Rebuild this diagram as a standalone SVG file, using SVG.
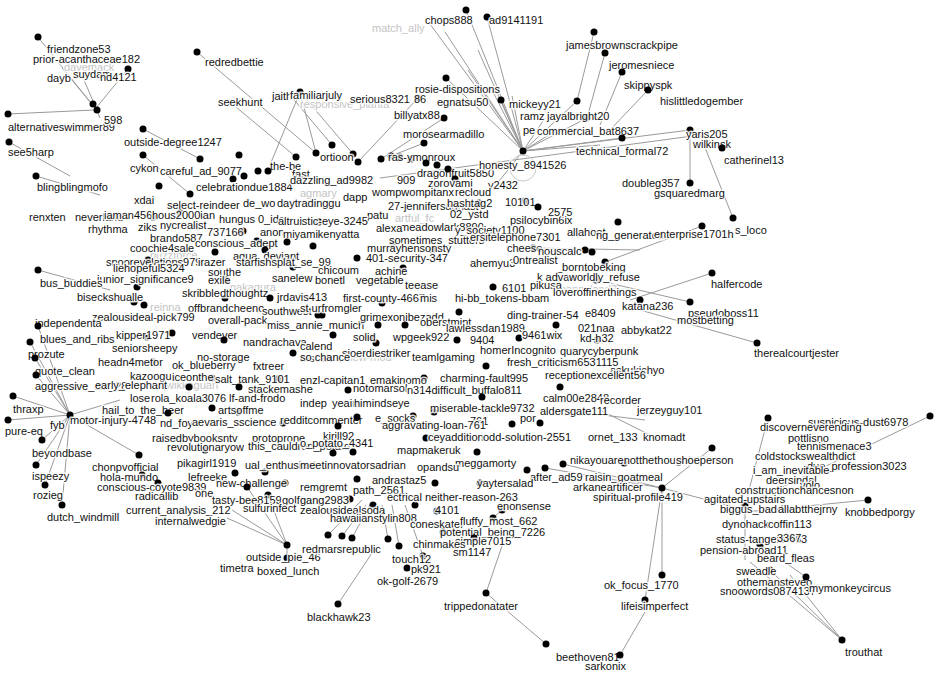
<svg xmlns="http://www.w3.org/2000/svg" width="950" height="678" viewBox="0 0 950 678">
<style>
text{font-family:"Liberation Sans",Arial,sans-serif;font-size:11px;fill:#111;stroke:#fff;stroke-width:3px;stroke-opacity:0.85;paint-order:stroke;stroke-linejoin:round}
.f text{fill:#c4c4c4}
circle{fill:#000}
circle.ring{fill:none;stroke:#c8c8c8;stroke-width:1}
#edges line{stroke:#9a9a9a;stroke-width:1}
</style>
<rect width="950" height="678" fill="#fff"/>
<g id="edges">
<line x1="38" y1="37" x2="95" y2="108"/><line x1="62" y1="68" x2="95" y2="108"/><line x1="84" y1="80" x2="96" y2="108"/><line x1="128" y1="69" x2="96" y2="108"/><line x1="8" y1="114" x2="94" y2="110"/><line x1="96" y1="108" x2="100" y2="118"/>
<line x1="197" y1="52" x2="316" y2="153"/><line x1="230" y1="102" x2="296" y2="157"/><line x1="300" y1="92" x2="316" y2="153"/><line x1="300" y1="92" x2="353" y2="154"/><line x1="300" y1="92" x2="270" y2="165"/><line x1="290" y1="95" x2="332" y2="145"/><line x1="418" y1="98" x2="358" y2="162"/><line x1="444" y1="118" x2="381" y2="159"/><line x1="424" y1="143" x2="391" y2="156"/><line x1="143" y1="129" x2="200" y2="159"/><line x1="143" y1="155" x2="190" y2="194"/>
<line x1="523" y1="151" x2="430" y2="24"/><line x1="523" y1="151" x2="445" y2="32"/><line x1="523" y1="151" x2="466" y2="10"/><line x1="523" y1="151" x2="487" y2="17"/><line x1="523" y1="151" x2="478" y2="50"/><line x1="523" y1="151" x2="468" y2="70"/><line x1="523" y1="151" x2="446" y2="78"/><line x1="523" y1="151" x2="490" y2="86"/><line x1="523" y1="151" x2="501" y2="100"/><line x1="523" y1="151" x2="512" y2="96"/><line x1="523" y1="151" x2="577" y2="101"/><line x1="523" y1="151" x2="587" y2="118"/><line x1="523" y1="151" x2="622" y2="138"/><line x1="523" y1="151" x2="690" y2="130"/><line x1="523" y1="151" x2="560" y2="128"/><line x1="523" y1="151" x2="545" y2="118"/><line x1="523" y1="151" x2="600" y2="145"/><line x1="523" y1="151" x2="488" y2="195"/>
<line x1="594" y1="32" x2="577" y2="101"/><line x1="605" y1="53" x2="587" y2="118"/><line x1="622" y1="72" x2="600" y2="125"/><line x1="648" y1="90" x2="610" y2="130"/>
<line x1="380" y1="178" x2="700" y2="135"/><line x1="690" y1="130" x2="722" y2="148"/><line x1="690" y1="130" x2="690" y2="183"/><line x1="700" y1="135" x2="733" y2="218"/>
<line x1="605" y1="262" x2="702" y2="226"/><line x1="596" y1="280" x2="690" y2="302"/><line x1="630" y1="300" x2="712" y2="273"/><line x1="640" y1="310" x2="757" y2="343"/><line x1="533" y1="248" x2="640" y2="250"/>
<line x1="36" y1="176" x2="100" y2="195"/><line x1="9" y1="142" x2="70" y2="176"/><line x1="38" y1="270" x2="110" y2="290"/>
<line x1="70" y1="415" x2="30" y2="342"/><line x1="70" y1="415" x2="38" y2="326"/><line x1="70" y1="415" x2="35" y2="358"/><line x1="70" y1="415" x2="36" y2="375"/><line x1="70" y1="415" x2="13" y2="396"/><line x1="70" y1="415" x2="8" y2="420"/><line x1="70" y1="415" x2="42" y2="440"/><line x1="70" y1="415" x2="36" y2="465"/><line x1="70" y1="415" x2="45" y2="485"/><line x1="70" y1="415" x2="62" y2="505"/><line x1="70" y1="415" x2="139" y2="455"/><line x1="70" y1="415" x2="120" y2="400"/>
<line x1="287" y1="545" x2="227" y2="518"/><line x1="287" y1="545" x2="232" y2="510"/><line x1="287" y1="545" x2="268" y2="495"/><line x1="287" y1="545" x2="247" y2="487"/><line x1="287" y1="545" x2="287" y2="558"/>
<line x1="338" y1="604" x2="372" y2="553"/><line x1="328" y1="535" x2="362" y2="500"/><line x1="342" y1="536" x2="366" y2="505"/><line x1="352" y1="538" x2="370" y2="505"/><line x1="388" y1="539" x2="382" y2="505"/><line x1="399" y1="546" x2="392" y2="505"/><line x1="423" y1="556" x2="405" y2="505"/>
<line x1="486" y1="593" x2="503" y2="543"/><line x1="486" y1="593" x2="546" y2="644"/><line x1="493" y1="518" x2="502" y2="510"/>
<line x1="662" y1="488" x2="712" y2="448"/><line x1="662" y1="488" x2="662" y2="575"/><line x1="662" y1="488" x2="645" y2="600"/><line x1="645" y1="612" x2="620" y2="655"/><line x1="662" y1="488" x2="563" y2="464"/><line x1="662" y1="488" x2="545" y2="468"/><line x1="662" y1="488" x2="745" y2="510"/><line x1="600" y1="410" x2="660" y2="440"/><line x1="560" y1="410" x2="645" y2="420"/>
<line x1="930" y1="416" x2="745" y2="505"/><line x1="868" y1="500" x2="745" y2="512"/><line x1="806" y1="577" x2="760" y2="545"/><line x1="842" y1="640" x2="770" y2="570"/><line x1="842" y1="640" x2="790" y2="575"/><line x1="842" y1="640" x2="750" y2="562"/><line x1="768" y1="418" x2="745" y2="505"/><line x1="745" y1="505" x2="745" y2="560"/>
</g>
<circle class="ring" cx="523" cy="168" r="13"/>
<g class="f">
<g id="f1"><text x="372" y="32">match_ally</text></g>
<g id="f2"><text x="64" y="71">davemack</text></g>
<g id="f3"><text x="300" y="108">responsive_planta</text></g>
<g id="f4"><text x="150" y="259">buzzforce</text></g>
<g id="f5"><text x="230" y="291">nakagura</text></g>
<g id="f6"><text x="150" y="311">reinna</text></g>
<g id="f7"><text x="160" y="389">qwikkaguarl</text></g>
<g id="f8"><text x="330" y="361">myview-mod</text></g>
<g id="f9"><text x="560" y="293">happyland2</text></g>
<g id="f10"><text x="395" y="222">artful_fc</text></g>
<g id="f11"><text x="300" y="197">agmary</text></g>
</g>
<g id="n-friendzone53"><circle cx="38" cy="37" r="3.5"/><text x="47" y="53">friendzone53</text></g>
<g id="n-prior"><text x="33" y="63">prior-acanthaceae182</text></g>
<g id="n-dayb"><circle cx="93" cy="104" r="3.5"/><text x="47" y="82">dayb</text></g>
<g id="n-suydam"><circle cx="97" cy="110" r="3.5"/><text x="73" y="78">suydam</text></g>
<g id="n-d4121"><circle cx="128" cy="69" r="3.5"/><text x="100" y="81">nd4121</text></g>
<g id="n-alt"><circle cx="8" cy="114" r="3.5"/><text x="8" y="131">alternativeswimmer89</text></g>
<g id="n-598"><text x="104" y="124">598</text></g>
<g id="n-see5harp"><circle cx="9" cy="142" r="3.5"/><text x="8" y="156">see5harp</text></g>
<g id="n-outside-degree"><circle cx="143" cy="129" r="3.5"/><text x="124" y="146">outside-degree1247</text></g>
<g id="n-cykon"><circle cx="143" cy="155" r="3.5"/><text x="130" y="172">cykon</text></g>
<g id="n-careful"><circle cx="200" cy="159" r="3.5"/><text x="160" y="175">careful_ad_9077</text></g>
<g id="n-blingbling"><circle cx="36" cy="176" r="3.5"/><text x="37" y="191">blingblingmofo</text></g>
<g id="n-the-be"><circle cx="239" cy="155" r="3.5"/><text x="270" y="170">the-be</text></g>
<g id="n-celebration"><circle cx="233" cy="179" r="3.5"/><circle cx="244" cy="176" r="3.5"/><text x="196" y="191">celebrationdue1884</text></g>
<g id="n-xdai"><circle cx="159" cy="186" r="3.5"/><text x="134" y="204">xdai</text></g>
<g id="n-select"><circle cx="190" cy="194" r="3.5"/><text x="167" y="209">select-reindeer</text></g>
<g id="n-dewo"><circle cx="258" cy="171" r="3.5"/><text x="243" y="207">de_wo</text></g>
<g id="n-daytrading"><circle cx="268" cy="171" r="3.5"/><text x="277" y="207">daytradinggu</text></g>
<g id="n-renxten"><text x="29" y="221">renxten</text></g>
<g id="n-neverland"><text x="75" y="221">neverland</text></g>
<g id="n-iaman456"><circle cx="153" cy="217" r="3.5"/><text x="104" y="219">iaman456</text></g>
<g id="n-hous2000ian"><circle cx="180" cy="213" r="3.5"/><text x="152" y="219">hous2000ian</text></g>
<g id="n-hungus"><text x="219" y="223">hungus</text></g>
<g id="n-0idc"><text x="258" y="223">0_idc</text></g>
<g id="n-ziks"><text x="138" y="231">ziks</text></g>
<g id="n-nycrealist"><text x="160" y="229">nycrealist</text></g>
<g id="n-rhythma"><text x="88" y="233">rhythma</text></g>
<g id="n-737166"><circle cx="243" cy="231" r="3.5"/><text x="207" y="236">737166</text></g>
<g id="n-anon"><text x="260" y="236">anon</text></g>
<g id="n-miya"><circle cx="313" cy="246" r="3.5"/><text x="283" y="238">miyamikenyatta</text></g>
<g id="n-brando"><text x="150" y="242">brando587</text></g>
<g id="n-conscious"><circle cx="257" cy="241" r="3.5"/><circle cx="287" cy="242" r="3.5"/><text x="195" y="247">conscious_adept</text></g>
<g id="n-coochie"><circle cx="215" cy="252" r="3.5"/><text x="130" y="252">coochie4sale</text></g>
<g id="n-aqua"><circle cx="265" cy="250" r="3.5"/><text x="233" y="260">aqua_deviant</text></g>
<g id="n-snoorev"><circle cx="148" cy="260" r="3.5"/><text x="106" y="266">snoorevelations979</text></g>
<g id="n-irazer"><text x="198" y="266">irazer</text></g>
<g id="n-starfish"><circle cx="293" cy="267" r="3.5"/><text x="236" y="266">starfishsplat_se_99</text></g>
<g id="n-liehopeful"><text x="113" y="272">liehopeful5324</text></g>
<g id="n-southe"><text x="208" y="276">southe</text></g>
<g id="n-junior"><circle cx="137" cy="287" r="3.5"/><text x="97" y="283">junior_significance9</text></g>
<g id="n-exile"><circle cx="226" cy="280" r="3.5"/><text x="208" y="284">exile</text></g>
<g id="n-sanele"><text x="272" y="282">sanelew</text></g>
<g id="n-bus"><circle cx="38" cy="270" r="3.5"/><text x="40" y="287">bus_buddies</text></g>
<g id="n-skribbled"><circle cx="225" cy="298" r="3.5"/><text x="182" y="297">skribbledthoughtz</text></g>
<g id="n-bisecks"><circle cx="144" cy="305" r="3.5"/><circle cx="134" cy="302" r="3.5"/><text x="77" y="301">biseckshualle</text></g>
<g id="n-jrdavis"><circle cx="270" cy="298" r="3.5"/><text x="277" y="301">jrdavis413</text></g>
<g id="n-offbrand"><text x="188" y="312">offbrandcheeno</text></g>
<g id="n-southwest"><text x="262" y="315">southwest</text></g>
<g id="n-zealouspick"><text x="92" y="321">zealousideal-pick799</text></g>
<g id="n-overall"><text x="208" y="324">overall-pack</text></g>
<g id="n-independent"><text x="35" y="327">independenta</text></g>
<g id="n-miss-annie"><text x="267" y="329">miss_annie_munich</text></g>
<g id="n-kipper"><circle cx="172" cy="333" r="3.5"/><circle cx="147" cy="337" r="3.5"/><text x="116" y="339">kipper1971</text></g>
<g id="n-vendever"><text x="192" y="339">vendever</text></g>
<g id="n-blues"><circle cx="38" cy="326" r="3.5"/><text x="40" y="343">blues_and_ribs</text></g>
<g id="n-nandrachava"><circle cx="224" cy="340" r="3.5"/><text x="243" y="346">nandrachava</text></g>
<g id="n-senior"><text x="112" y="352">seniorsheepy</text></g>
<g id="n-prozute"><circle cx="30" cy="342" r="3.5"/><text x="28" y="358">prozute</text></g>
<g id="n-nostorage"><circle cx="293" cy="353" r="3.5"/><text x="197" y="361">no-storage</text></g>
<g id="n-mscale"><text x="300" y="362">mscale</text></g>
<g id="n-headn"><circle cx="153" cy="362" r="3.5"/><text x="98" y="366">headn4metor</text></g>
<g id="n-okblue"><text x="172" y="369">ok_blueberry</text></g>
<g id="n-fxtreer"><text x="253" y="370">fxtreer</text></g>
<g id="n-quote"><circle cx="35" cy="358" r="3.5"/><text x="35" y="375">quote_clean</text></g>
<g id="n-kazoogu"><text x="130" y="380">kazoogu</text></g>
<g id="n-iceonthe"><circle cx="212" cy="378" r="3.5"/><text x="172" y="381">iceonthe</text></g>
<g id="n-salttank"><circle cx="278" cy="379" r="3.5"/><text x="215" y="383">salt_tank_9101</text></g>
<g id="n-aggressive"><circle cx="36" cy="375" r="3.5"/><text x="35" y="390">aggressive_cut_28</text></g>
<g id="n-early"><circle cx="189" cy="387" r="3.5"/><text x="95" y="389">early_elephant</text></g>
<g id="n-stackem"><circle cx="239" cy="387" r="3.5"/><text x="248" y="393">stackemashe</text></g>
<g id="n-lose"><text x="130" y="402">lose</text></g>
<g id="n-rola"><text x="151" y="402">rola_koala3076</text></g>
<g id="n-frodo"><text x="229" y="402">lf-and-frodo</text></g>
<g id="n-thraxp"><circle cx="13" cy="396" r="3.5"/><text x="13" y="413">thraxp</text></g>
<g id="n-hail"><circle cx="212" cy="408" r="3.5"/><text x="102" y="414">hail_to_the_beer</text></g>
<g id="n-arts"><circle cx="238" cy="412" r="3.5"/><text x="218" y="414">artsoffme</text></g>
<g id="n-motor"><circle cx="70" cy="415" r="3.5"/><circle cx="168" cy="413" r="3.5"/><text x="70" y="424">motor-injury-4748</text></g>
<g id="n-foy"><text x="160" y="427">nd_foy</text></g>
<g id="n-aevaris"><text x="192" y="426">aevaris_sscience</text></g>
<g id="n-reddit"><circle cx="283" cy="423" r="3.5"/><text x="280" y="424">redditcommenter</text></g>
<g id="n-fyb"><text x="50" y="429">fyb</text></g>
<g id="n-pure"><circle cx="8" cy="420" r="3.5"/><text x="5" y="435">pure-eq</text></g>
<g id="n-raised"><text x="152" y="442">raisedbybooksntv</text></g>
<g id="n-protoprone"><text x="252" y="442">protoprone</text></g>
<g id="n-revolution"><circle cx="205" cy="450" r="3.5"/><text x="167" y="451">revolutionaryow</text></g>
<g id="n-thiscau"><text x="248" y="450">this_cauldron_potato</text></g>
<g id="n-beyond"><circle cx="42" cy="440" r="3.5"/><text x="32" y="457">beyondbase</text></g>
<g id="n-chonp"><circle cx="139" cy="455" r="3.5"/><text x="92" y="471">chonpvofficial</text></g>
<g id="n-pikagirl"><text x="177" y="467">pikagirl1919</text></g>
<g id="n-ualenth"><circle cx="265" cy="472" r="3.5"/><circle cx="235" cy="473" r="3.5"/><text x="245" y="469">ual_enthusiast</text></g>
<g id="n-ispeezy"><circle cx="36" cy="465" r="3.5"/><text x="32" y="480">ispeezy</text></g>
<g id="n-hola"><circle cx="142" cy="475" r="3.5"/><text x="100" y="481">hola-mundo</text></g>
<g id="n-lefreeke"><text x="188" y="481">lefreeke</text></g>
<g id="n-newchal"><circle cx="285" cy="483" r="3.5"/><text x="216" y="487">new-challenge</text></g>
<g id="n-coyote"><circle cx="158" cy="483" r="3.5"/><text x="97" y="491">conscious-coyote9839</text></g>
<g id="n-rozieg"><circle cx="45" cy="485" r="3.5"/><text x="33" y="499">rozieg</text></g>
<g id="n-radicallib"><text x="135" y="500">radicallib</text></g>
<g id="n-one"><text x="195" y="497">one</text></g>
<g id="n-tasty"><circle cx="247" cy="487" r="3.5"/><circle cx="268" cy="495" r="3.5"/><text x="212" y="504">tasty-bee8159</text></g>
<g id="n-golfgang"><text x="282" y="504">golfgang</text></g>
<g id="n-sulfur"><text x="243" y="512">sulfurinfect</text></g>
<g id="n-current"><text x="126" y="514">current_analysis_212</text></g>
<g id="n-dutch"><circle cx="62" cy="505" r="3.5"/><text x="47" y="521">dutch_windmill</text></g>
<g id="n-internal"><text x="155" y="525">internalwedgie</text></g>
<g id="n-outsidepie"><circle cx="287" cy="545" r="3.5"/><circle cx="287" cy="558" r="3.5"/><text x="246" y="561">outside_pie_46</text></g>
<g id="n-timetra"><text x="220" y="572">timetra</text></g>
<g id="n-boxed"><text x="257" y="575">boxed_lunch</text></g>
<g id="n-seekhunt"><circle cx="296" cy="157" r="3.5"/><text x="218" y="106">seekhunt</text></g>
<g id="n-jaith"><text x="272" y="100">jaith</text></g>
<g id="n-familiar"><circle cx="300" cy="92" r="3.5"/><text x="290" y="99">familiarjuly</text></g>
<g id="n-serious"><circle cx="418" cy="98" r="3.5"/><text x="350" y="103">serious8321</text></g>
<g id="n-86"><text x="414" y="103">86</text></g>
<g id="n-redred"><circle cx="197" cy="52" r="3.5"/><text x="205" y="66">redredbettie</text></g>
<g id="n-billyatx"><circle cx="444" cy="118" r="3.5"/><text x="394" y="119">billyatx88</text></g>
<g id="n-morose"><circle cx="424" cy="143" r="3.5"/><text x="403" y="138">morosearmadillo</text></g>
<g id="n-ortioon"><circle cx="316" cy="153" r="3.5"/><circle cx="332" cy="145" r="3.5"/><circle cx="353" cy="154" r="3.5"/><circle cx="358" cy="162" r="3.5"/><text x="320" y="161">ortioon</text></g>
<g id="n-monroux"><circle cx="381" cy="159" r="3.5"/><circle cx="391" cy="156" r="3.5"/><circle cx="400" cy="157" r="3.5"/><circle cx="411" cy="159" r="3.5"/><text x="388" y="161">ras-ymonroux</text></g>
<g id="n-fast"><text x="292" y="178">fast</text></g>
<g id="n-dazzling"><text x="290" y="184">dazzling_ad9982</text></g>
<g id="n-909"><text x="397" y="184">909</text></g>
<g id="n-dragon"><circle cx="426" cy="163" r="3.5"/><circle cx="437" cy="165" r="3.5"/><text x="417" y="177">dragonfruit5850</text></g>
<g id="n-zorovami"><circle cx="448" cy="169" r="3.5"/><circle cx="455" cy="179" r="3.5"/><text x="428" y="187">zorovami</text></g>
<g id="n-womp"><text x="372" y="196">wompwompitanx</text></g>
<g id="n-dapp"><text x="343" y="201">dapp</text></g>
<g id="n-jennifer"><text x="388" y="210">27-jennifersaghast</text></g>
<g id="n-patu"><text x="367" y="219">patu</text></g>
<g id="n-meadow"><text x="400" y="231">meadowlark8890</text></g>
<g id="n-alexa"><text x="376" y="232">alexa</text></g>
<g id="n-altruistic"><circle cx="319" cy="222" r="3.5"/><text x="278" y="225">altruistic-eye-3245</text></g>
<g id="n-y2432"><text x="488" y="189">y2432</text></g>
<g id="n-recloud"><text x="455" y="196">recloud</text></g>
<g id="n-hashtag"><circle cx="479" cy="203" r="3.5"/><text x="447" y="207">hashtag2</text></g>
<g id="n-10101"><circle cx="525" cy="201" r="3.5"/><text x="505" y="206">10101</text></g>
<g id="n-ystd"><text x="450" y="218">02_ystd</text></g>
<g id="n-psilo"><circle cx="538" cy="207" r="3.5"/><text x="510" y="224">psilocybin6ix</text></g>
<g id="n-2575"><text x="548" y="216">2575</text></g>
<g id="n-society"><circle cx="618" cy="222" r="3.5"/><text x="455" y="234">y_society1100</text></g>
<g id="n-sometimes"><circle cx="393" cy="245" r="3.5"/><text x="389" y="244">sometimes_stutters</text></g>
<g id="n-murray"><circle cx="432" cy="250" r="3.5"/><text x="367" y="252">murrayhensonsty</text></g>
<g id="n-security"><circle cx="357" cy="258" r="3.5"/><text x="366" y="262">401-security-347</text></g>
<g id="n-chicoum"><text x="318" y="274">chicoum</text></g>
<g id="n-achine"><circle cx="403" cy="268" r="3.5"/><text x="375" y="275">achine</text></g>
<g id="n-bonetl"><text x="315" y="284">bonetl</text></g>
<g id="n-vegetable"><text x="356" y="284">vegetable</text></g>
<g id="n-teease"><text x="405" y="289">teease</text></g>
<g id="n-first"><circle cx="382" cy="303" r="3.5"/><text x="343" y="302">first-county-4667</text></g>
<g id="n-mis"><text x="420" y="302">mis</text></g>
<g id="n-hibb"><text x="455" y="302">hi-bb_tokens-bbam</text></g>
<g id="n-urfrom"><circle cx="318" cy="315" r="3.5"/><circle cx="322" cy="315" r="3.5"/><text x="300" y="312">st urfromgler</text></g>
<g id="n-grimex"><circle cx="459" cy="312" r="3.5"/><text x="360" y="321">grimexonibezadd</text></g>
<g id="n-oberst"><circle cx="405" cy="325" r="3.5"/><circle cx="378" cy="325" r="3.5"/><text x="420" y="326">oberstmint</text></g>
<g id="n-solid"><circle cx="333" cy="335" r="3.5"/><circle cx="370" cy="338" r="3.5"/><circle cx="376" cy="343" r="3.5"/><text x="353" y="341">solid</text></g>
<g id="n-wpgeek"><text x="393" y="341">wpgeek922</text></g>
<g id="n-lawless"><circle cx="457" cy="340" r="3.5"/><text x="446" y="332">lawlessdan1989</text></g>
<g id="n-calend"><text x="300" y="350">calend</text></g>
<g id="n-sjoerd"><text x="342" y="357">sjoerdiestriker</text></g>
<g id="n-chance"><text x="300" y="361">so chance</text></g>
<g id="n-teamlgaming"><text x="412" y="361">teamlgaming</text></g>
<g id="n-telephone"><text x="470" y="241">ersitelephone7301</text></g>
<g id="n-allahoot"><text x="567" y="236">allahoot</text></g>
<g id="n-ngen"><text x="596" y="239">ng_generated</text></g>
<g id="n-cheese"><circle cx="533" cy="248" r="3.5"/><text x="507" y="252">cheese</text></g>
<g id="n-nouscalc"><circle cx="585" cy="250" r="3.5"/><circle cx="592" cy="252" r="3.5"/><text x="538" y="255">nouscalc</text></g>
<g id="n-ahemyu"><text x="470" y="267">ahemyu3</text></g>
<g id="n-ontrealist"><text x="513" y="264">0ntrealist</text></g>
<g id="n-borntobe"><circle cx="605" cy="262" r="3.5"/><text x="556" y="271">_borntobeking</text></g>
<g id="n-advan"><text x="537" y="281">k advan</text></g>
<g id="n-worldly"><circle cx="596" cy="280" r="3.5"/><text x="569" y="281">worldly_refuse</text></g>
<g id="n-6101"><circle cx="493" cy="287" r="3.5"/><text x="502" y="292">6101</text></g>
<g id="n-pikusa"><text x="530" y="289">pikusa</text></g>
<g id="n-lover"><text x="553" y="296">loveroffinerthings</text></g>
<g id="n-katana"><circle cx="640" cy="300" r="3.5"/><text x="622" y="310">katana236</text></g>
<g id="n-ding"><text x="507" y="319">ding-trainer-54</text></g>
<g id="n-e8409"><text x="585" y="317">e8409</text></g>
<g id="n-naa"><circle cx="556" cy="325" r="3.5"/><text x="578" y="332">021naa</text></g>
<g id="n-abby"><text x="621" y="334">abbykat22</text></g>
<g id="n-9461"><circle cx="519" cy="338" r="3.5"/><text x="522" y="339">9461wix</text></g>
<g id="n-kdh"><circle cx="597" cy="340" r="3.5"/><text x="580" y="342">kd-h32</text></g>
<g id="n-9404"><text x="470" y="344">9404</text></g>
<g id="n-homer"><text x="480" y="354">homerIncognito</text></g>
<g id="n-quary"><text x="560" y="355">quarycyberpunk</text></g>
<g id="n-enterprise"><circle cx="702" cy="226" r="3.5"/><text x="654" y="238">enterprise1701h</text></g>
<g id="n-halfer"><circle cx="712" cy="273" r="3.5"/><text x="711" y="288">halfercode</text></g>
<g id="n-pseudo"><circle cx="690" cy="302" r="3.5"/><text x="688" y="317">pseudoboss11</text></g>
<g id="n-mostwhat"><text x="677" y="324">mostbetting</text></g>
<g id="n-courtjester"><circle cx="757" cy="343" r="3.5"/><text x="754" y="357">therealcourtjester</text></g>
<g id="n-askuki"><text x="610" y="374">askukichyo</text></g>
<g id="n-fresh"><circle cx="486" cy="366" r="3.5"/><text x="507" y="366">fresh_criticism6531115</text></g>
<g id="n-reception"><text x="545" y="379">receptionexcellent56</text></g>
<g id="n-charming"><circle cx="424" cy="378" r="3.5"/><text x="440" y="382">charming-fault995</text></g>
<g id="n-capitan"><text x="300" y="384">enzl-capitan1</text></g>
<g id="n-emakino"><text x="370" y="384">emakinomo</text></g>
<g id="n-notomarsol"><circle cx="348" cy="390" r="3.5"/><text x="353" y="392">notomarsol</text></g>
<g id="n-difficult"><circle cx="560" cy="387" r="3.5"/><text x="407" y="394">n314difficult_buffalo811</text></g>
<g id="n-calm"><circle cx="482" cy="397" r="3.5"/><text x="543" y="402">calm00e2848</text></g>
<g id="n-recorder"><text x="600" y="404">recorder</text></g>
<g id="n-indep"><text x="300" y="407">indep</text></g>
<g id="n-yeaim"><text x="332" y="407">yeaim</text></g>
<g id="n-himind"><text x="354" y="407">himindseye</text></g>
<g id="n-miserable"><circle cx="434" cy="412" r="3.5"/><text x="430" y="412">miserable-tackle9732</text></g>
<g id="n-jerzey"><text x="637" y="414">jerzeyguy101</text></g>
<g id="n-alders"><text x="540" y="415">aldersgate111</text></g>
<g id="n-socks"><circle cx="357" cy="417" r="3.5"/><circle cx="413" cy="416" r="3.5"/><text x="375" y="422">e_socks</text></g>
<g id="n-por"><circle cx="512" cy="424" r="3.5"/><circle cx="540" cy="423" r="3.5"/><text x="520" y="422">por</text></g>
<g id="n-761"><text x="470" y="425">761</text></g>
<g id="n-aggravating"><circle cx="338" cy="426" r="3.5"/><text x="382" y="429">aggravating-loan-761</text></g>
<g id="n-kirill"><text x="323" y="440">kirill92</text></g>
<g id="n-addition"><circle cx="426" cy="438" r="3.5"/><text x="428" y="441">ceyaddition</text></g>
<g id="n-odd"><text x="483" y="441">odd-solution-2551</text></g>
<g id="n-ornet"><text x="588" y="441">ornet_133</text></g>
<g id="n-knomadt"><text x="643" y="441">knomadt</text></g>
<g id="n-potato"><text x="300" y="447">o_potato_4341</text></g>
<g id="n-mapmaker"><circle cx="353" cy="452" r="3.5"/><circle cx="333" cy="453" r="3.5"/><text x="397" y="454">mapmakeruk</text></g>
<g id="n-meggamorty"><circle cx="477" cy="452" r="3.5"/><text x="455" y="467">meggamorty</text></g>
<g id="n-nika"><text x="570" y="464">nika</text></g>
<g id="n-youare"><circle cx="624" cy="463" r="3.5"/><text x="590" y="464">youarenotthethoughts</text></g>
<g id="n-shoeperson"><circle cx="712" cy="448" r="3.5"/><text x="676" y="464">shoeperson</text></g>
<g id="n-meetinn"><text x="300" y="469">meetinnovatorsadrian</text></g>
<g id="n-opandsu"><text x="417" y="471">opandsu</text></g>
<g id="n-after"><circle cx="527" cy="470" r="3.5"/><circle cx="545" cy="468" r="3.5"/><circle cx="563" cy="464" r="3.5"/><text x="530" y="481">after_ad59</text></g>
<g id="n-raisin"><text x="585" y="481">raisin_goatmeal</text></g>
<g id="n-andrasta"><circle cx="357" cy="479" r="3.5"/><circle cx="435" cy="483" r="3.5"/><text x="372" y="484">andrastaz5</text></g>
<g id="n-yayter"><circle cx="480" cy="483" r="3.5"/><text x="477" y="487">yaytersalad</text></g>
<g id="n-arkane"><text x="573" y="491">arkaneartificer</text></g>
<g id="n-remgrem"><text x="300" y="491">remgremt</text></g>
<g id="n-path"><circle cx="350" cy="499" r="3.5"/><text x="353" y="494">path_2561</text></g>
<g id="n-neither"><circle cx="415" cy="505" r="3.5"/><text x="387" y="501">ectrical neither-reason-263</text></g>
<g id="n-spiritual"><circle cx="662" cy="488" r="3.5"/><text x="593" y="501">spiritual-profile419</text></g>
<g id="n-gang"><circle cx="373" cy="505" r="3.5"/><text x="300" y="504">gang2983</text></g>
<g id="n-nonsense"><circle cx="502" cy="510" r="3.5"/><text x="497" y="510">enonsense</text></g>
<g id="n-zealsoda"><circle cx="437" cy="511" r="3.5"/><text x="300" y="514">zealousidealsoda</text></g>
<g id="n-4101"><text x="435" y="514">4101</text></g>
<g id="n-hawaiian"><circle cx="328" cy="535" r="3.5"/><circle cx="342" cy="536" r="3.5"/><circle cx="352" cy="538" r="3.5"/><text x="330" y="522">hawaiianstylin808</text></g>
<g id="n-coneskater"><text x="410" y="528">coneskater</text></g>
<g id="n-fluffy"><circle cx="493" cy="518" r="3.5"/><text x="460" y="525">fluffy_most_662</text></g>
<g id="n-potential"><circle cx="443" cy="532" r="3.5"/><text x="440" y="536">potential_being_7226</text></g>
<g id="n-simple"><circle cx="474" cy="538" r="3.5"/><text x="455" y="545">simple7015</text></g>
<g id="n-chinmake"><circle cx="388" cy="539" r="3.5"/><circle cx="399" cy="546" r="3.5"/><text x="413" y="548">chinmakes</text></g>
<g id="n-sm1147"><text x="453" y="556">sm1147</text></g>
<g id="n-redmars"><text x="302" y="553">redmarsrepublic</text></g>
<g id="n-touch"><circle cx="423" cy="556" r="3.5"/><text x="392" y="563">touch12</text></g>
<g id="n-pk921"><circle cx="407" cy="568" r="3.5"/><text x="411" y="573">pk921</text></g>
<g id="n-okgolf"><text x="377" y="585">ok-golf-2679</text></g>
<g id="n-blackhawk"><circle cx="338" cy="604" r="3.5"/><text x="307" y="621">blackhawk23</text></g>
<g id="n-tripped"><circle cx="486" cy="593" r="3.5"/><text x="444" y="610">trippedonatater</text></g>
<g id="n-beethoven"><circle cx="546" cy="644" r="3.5"/><text x="556" y="661">beethoven81</text></g>
<g id="n-sarkonix"><circle cx="620" cy="655" r="3.5"/><text x="585" y="670">sarkonix</text></g>
<g id="n-okfocus"><circle cx="662" cy="575" r="3.5"/><text x="604" y="589">ok_focus_1770</text></g>
<g id="n-lifeis"><circle cx="645" cy="600" r="3.5"/><text x="621" y="610">lifeisimperfect</text></g>
<g id="n-chops"><circle cx="466" cy="10" r="3.5"/><text x="425" y="24">chops888</text></g>
<g id="n-ad914"><circle cx="487" cy="17" r="3.5"/><text x="489" y="24">ad9141191</text></g>
<g id="n-rosie"><circle cx="446" cy="78" r="3.5"/><text x="415" y="93">rosie-dispositions</text></g>
<g id="n-egnatsu"><circle cx="501" cy="100" r="3.5"/><text x="437" y="106">egnatsu50</text></g>
<g id="n-mickey"><circle cx="577" cy="101" r="3.5"/><text x="509" y="108">mickeyy21</text></g>
<g id="n-ramz"><text x="520" y="120">ramz</text></g>
<g id="n-jayal"><circle cx="587" cy="118" r="3.5"/><text x="547" y="120">jayalbright20</text></g>
<g id="n-pe"><text x="523" y="134">pe</text></g>
<g id="n-commercial"><text x="537" y="135">commercial_bat8637</text></g>
<g id="n-technical"><circle cx="622" cy="138" r="3.5"/><text x="576" y="155">technical_formal72</text></g>
<g id="n-honesty"><circle cx="523" cy="151" r="3.5"/><text x="479" y="169">honesty_8941526</text></g>
<g id="n-jamesbrown"><circle cx="594" cy="32" r="3.5"/><text x="566" y="49">jamesbrownscrackpipe</text></g>
<g id="n-jerome"><circle cx="605" cy="53" r="3.5"/><text x="609" y="69">jeromesniece</text></g>
<g id="n-skippy"><circle cx="622" cy="72" r="3.5"/><text x="624" y="89">skippyspk</text></g>
<g id="n-hislittle"><circle cx="648" cy="90" r="3.5"/><text x="660" y="105">hislittledogember</text></g>
<g id="n-yaris"><circle cx="690" cy="130" r="3.5"/><text x="686" y="138">yaris205</text></g>
<g id="n-wilkinsk"><text x="693" y="148">wilkinsk</text></g>
<g id="n-catherine"><circle cx="722" cy="148" r="3.5"/><text x="724" y="164">catherinel13</text></g>
<g id="n-gsquared"><circle cx="690" cy="183" r="3.5"/><text x="654" y="197">gsquaredmarg</text></g>
<g id="n-sloco"><circle cx="733" cy="218" r="3.5"/><text x="735" y="234">s_loco</text></g>
<g id="n-doubleg"><text x="622" y="187">doubleg357</text></g>
<g id="n-suspicious"><circle cx="930" cy="416" r="3.5"/><text x="808" y="426">suspicious-dust6978</text></g>
<g id="n-discover"><circle cx="768" cy="418" r="3.5"/><text x="760" y="431">discoverneverending</text></g>
<g id="n-pottl"><text x="788" y="442">pottlisno</text></g>
<g id="n-tennis"><text x="797" y="450">tennismenace3</text></g>
<g id="n-coldstocks"><text x="755" y="460">coldstockswealthdict</text></g>
<g id="n-dueprof"><text x="807" y="470">due_profession3023</text></g>
<g id="n-iam"><text x="753" y="474">i_am_inevitable</text></g>
<g id="n-deersindal"><text x="766" y="484">deersindal</text></g>
<g id="n-yolo"><text x="800" y="489">yolo</text></g>
<g id="n-construction"><circle cx="745" cy="505" r="3.5"/><text x="735" y="494">constructionchancesnon</text></g>
<g id="n-agitated"><text x="704" y="503">agitated-upstairs</text></g>
<g id="n-biggus"><text x="720" y="513">biggus_baddie</text></g>
<g id="n-allabt"><text x="778" y="513">allabtthejrny</text></g>
<g id="n-knobbed"><circle cx="868" cy="500" r="3.5"/><text x="845" y="516">knobbedporgy</text></g>
<g id="n-dynohack"><text x="722" y="528">dynohack</text></g>
<g id="n-coffin"><text x="768" y="528">coffin113</text></g>
<g id="n-status"><circle cx="760" cy="545" r="3.5"/><text x="716" y="543">status-tangelo-463</text></g>
<g id="n-3367"><text x="777" y="542">3367</text></g>
<g id="n-pension"><text x="700" y="554">pension-abroad11</text></g>
<g id="n-beard"><circle cx="770" cy="570" r="3.5"/><text x="757" y="562">beard_fleas</text></g>
<g id="n-sweadle"><text x="736" y="575">sweadle</text></g>
<g id="n-othemans"><text x="737" y="586">othemansteveo</text></g>
<g id="n-snoowords"><text x="720" y="595">snoowords0874137</text></g>
<g id="n-mymonkey"><circle cx="806" cy="577" r="3.5"/><text x="809" y="592">mymonkeycircus</text></g>
<g id="n-trouthat"><circle cx="842" cy="640" r="3.5"/><text x="845" y="656">trouthat</text></g>
</svg>
